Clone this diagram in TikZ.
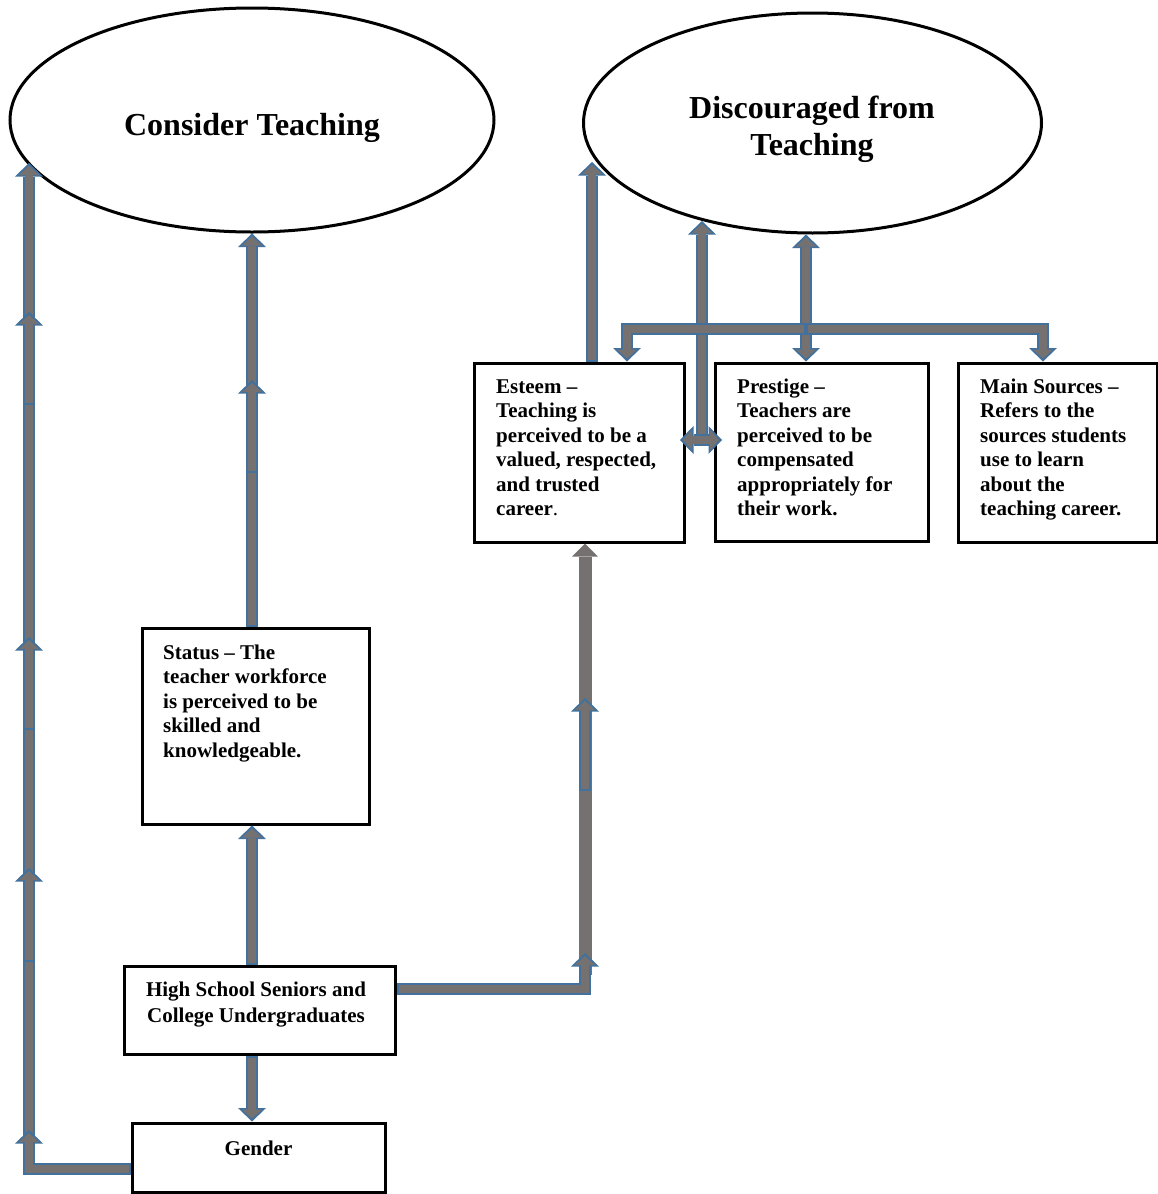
\documentclass[tikz,border=0pt]{standalone}
\usepackage{fontspec}
\setmainfont{Liberation Serif}
\usetikzlibrary{arrows.meta,shapes.geometric}
\definecolor{abl}{HTML}{41719C}
\definecolor{agr}{HTML}{767171}
\newcommand\bxf{\fontsize{21}{24.5}\selectfont\bfseries}
\newcommand\hsf{\fontsize{21}{26}\selectfont\bfseries}
\newcommand\elf{\fontsize{32}{37}\selectfont\bfseries}
\begin{document}
\begin{tikzpicture}[x=1pt,y=-1pt,
  box/.style={draw=black,line width=3pt,fill=white,rectangle,inner sep=0pt},
  oval/.style={draw=black,line width=3pt,fill=white,ellipse,inner sep=0pt},
  btxt/.style={inner sep=0pt,align=left,anchor=north west,font=\bxf},
  blk/.style={draw=abl,line width=12pt,line join=miter,
    -{Triangle[width=28pt,length=13.5pt,line width=0pt]},
    postaction={draw=agr,line width=8pt,shorten >=3pt,shorten <=2pt,
      -{Triangle[width=20pt,length=9pt,line width=0pt]}}},
  blkd/.style={draw=abl,line width=12pt,line join=miter,
    {Triangle[width=28pt,length=13.5pt,line width=0pt]}-{Triangle[width=28pt,length=13.5pt,line width=0pt]},
    postaction={draw=agr,line width=8pt,shorten >=3pt,shorten <=3pt,
      {Triangle[width=20pt,length=9pt,line width=0pt]}-{Triangle[width=20pt,length=9pt,line width=0pt]}}},
  blkg/.style={draw=agr,line width=13pt,-{Triangle[width=26pt,length=13pt,line width=0pt]}}
]
\useasboundingbox (0,0) rectangle (1158,1194);
\fill[white] (0,0) rectangle (1158,1194);

% ovals
\node[oval,minimum width=484pt,minimum height=224pt] (ct) at (252,120) {};
\node[oval,minimum width=458pt,minimum height=220pt] (dt) at (812.5,123) {};
\node[font=\elf,anchor=base,inner sep=0pt] (ctt) at (252,135.5) {Consider Teaching};
\node[font=\elf,align=center,anchor=north,inner sep=0pt] (dtt) at (812,92.6) {\strut Discouraged from\\Teaching};

% boxes
\node[box,minimum width=210pt,minimum height=179pt] (est) at (579,452.5) {};
\node[btxt] (estt) at (496,375.85) {\strut Esteem –\\Teaching is\\perceived to be a\\valued, respected,\\and trusted\\career\textmd{.}};
\node[box,minimum width=213pt,minimum height=178pt] (pre) at (821.5,452) {};
\node[btxt] (pret) at (737,375.85) {\strut Prestige –\\Teachers are\\perceived to be\\compensated\\appropriately for\\their work.};
\node[box,minimum width=199pt,minimum height=179pt] (src) at (1057.5,452.5) {};
\node[btxt] (srct) at (980,375.85) {\strut Main Sources –\\Refers to the\\sources students\\use to learn\\about the\\teaching career.};
\node[box,minimum width=227pt,minimum height=196pt] (sta) at (255.5,726) {};
\node[btxt] (stat) at (163,641.85) {\strut Status – The\\teacher workforce\\is perceived to be\\skilled and\\knowledgeable.};
\node[box,minimum width=271pt,minimum height=88pt] (hs) at (259.5,1010) {};
\node[btxt,align=center,anchor=north,font=\hsf] (hst) at (256,977.8) {\strut High School Seniors and\\College Undergraduates};
\node[box,minimum width=253pt,minimum height=69pt] (gen) at (258.5,1157.5) {};
\node[font=\bxf,anchor=base,inner sep=0pt] (gent) at (258.5,1155) {Gender};

% coordinates
\coordinate (xa) at (252,0);
\coordinate (ctL) at (29,163);
\coordinate (l1) at (29,1130);
\coordinate (l2a) at (29,962);
\coordinate (l2b) at (29,868);
\coordinate (l3a) at (29,730);
\coordinate (l3b) at (29,637);
\coordinate (l4a) at (29,405);
\coordinate (l4b) at (29,312);
\coordinate (s1a) at (252,473);
\coordinate (s1b) at (252,380);
\coordinate (xe) at (585,0);
\coordinate (e0) at (585,975);
\coordinate (e1) at (585,953);
\coordinate (e2a) at (585,791);
\coordinate (e2b) at (585,698);
\coordinate (xf) at (592,0);
\coordinate (dtL) at (592,162);
\coordinate (vt) at (702,221);
\coordinate (vb) at (702,440);
\coordinate (hl) at (680,440);
\coordinate (hr) at (722,440);
\coordinate (xm) at (806,0);
\coordinate (barc) at (806,329);
\coordinate (xl) at (627,0);
\coordinate (xr) at (1043,0);

% connectors
\draw[blk] ([yshift=-11.5pt]gen.west) -| (ctL);
\draw[blk] ([yshift=-11.5pt]gen.west) -| (l1);
\draw[blk] (l2a) -- (l2b);
\draw[blk] (l3a) -- (l3b);
\draw[blk] (l4a) -- (l4b);
\draw[blk] (sta.north -| xa) -- (ct.south);
\draw[blk] (s1a) -- (s1b);
\draw[blk] (hs.north -| xa) -- (sta.south -| xa);
\draw[blk] (hs.south -| xa) -- (gen.north -| xa);
\draw[blkg] (e0) -- (est.south -| xe);
\draw[blk] ([yshift=21pt]hs.east) -| (e1);
\draw[blk] (e2a) -- (e2b);
\draw[blk] (est.north -| xf) -- (dtL);
\draw[blk] (vb) -- (vt);
\draw[blkd] (hl) -- (hr);
\draw[blkd] (dt.south -| xm) -- (pre.north -| xm);
\draw[blk] (barc) -| (est.north -| xl);
\draw[blk] (barc) -| (src.north -| xr);
\end{tikzpicture}
\end{document}
